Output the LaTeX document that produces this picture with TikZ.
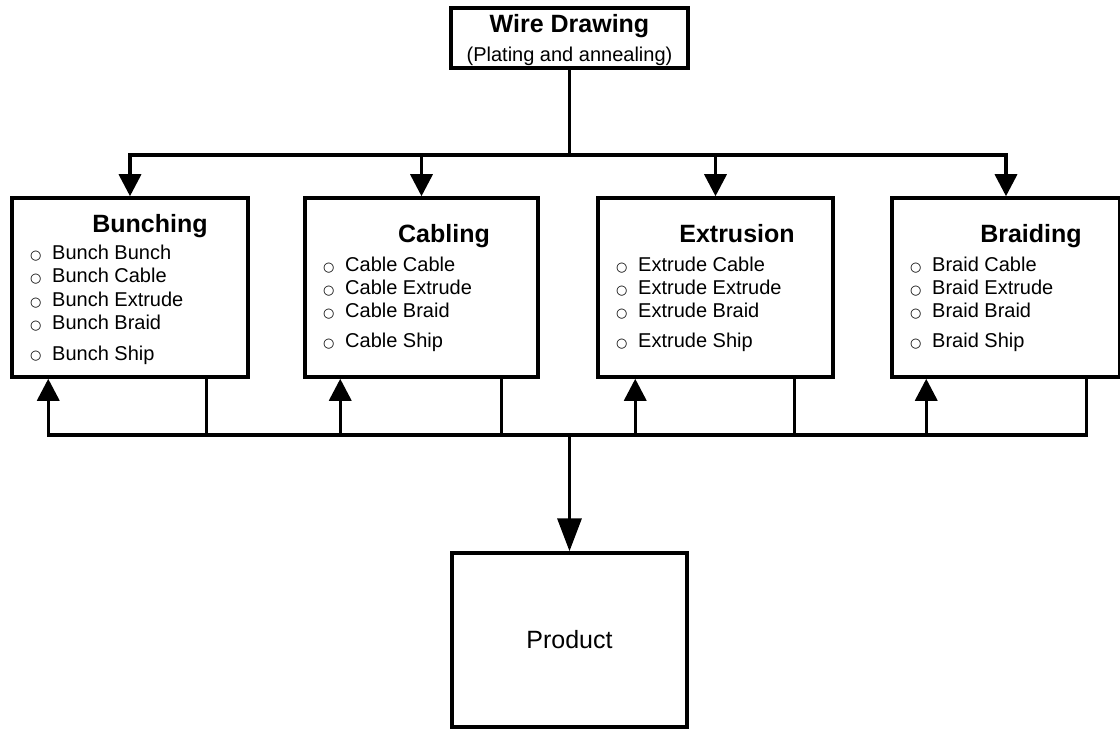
\documentclass[tikz,border=0pt]{standalone}
\usepackage{fontspec}
\setmainfont{Liberation Sans}
\newfontfamily\bulfont{DejaVu Sans}
\usetikzlibrary{arrows.meta}
\newcommand\itembul{\makebox[23pt][l]{\hspace{1pt}\raisebox{0.8pt}{\bulfont\fontsize{13}{15}\selectfont ○}}}
\begin{document}
\begin{tikzpicture}[x=1pt,y=-1pt,
  line/.style={line width=3.5pt},
  box/.style={draw,line width=3.5pt,rectangle,inner sep=0pt},
  procbox/.style={box,minimum height=179pt},
  tip/.style={-{Triangle[length=22pt,width=22pt]}},
  tipstart/.style={{Triangle[length=22pt,width=22pt]}-},
  tipboth/.style={{Triangle[length=22pt,width=22pt]}-{Triangle[length=22pt,width=22pt]}},
  title/.style={font=\fontsize{25}{30}\selectfont\bfseries,anchor=base,inner sep=0pt},
  sub/.style={font=\fontsize{20}{24}\selectfont,anchor=base,inner sep=0pt},
  item/.style={font=\fontsize{20}{24}\selectfont,anchor=base west,inner sep=0pt},
]
\useasboundingbox (0,0) rectangle (1120,730);

% top box
\node[box,minimum width=237pt,minimum height=60pt] (wire) at (569.5,38) {};
\node[title] (wt1) at (569.5,33) {Wire Drawing};
\node[sub] (wt2) at (569.5,62) {(Plating and annealing)};

% process boxes
\node[procbox,minimum width=236pt] (bunch) at (130,287.5) {};
\node[procbox,minimum width=233pt] (cable) at (421.5,287.5) {};
\node[procbox,minimum width=235pt] (extr) at (715.5,287.5) {};
\node[procbox,minimum width=228pt] (braid) at (1006,287.5) {};

% product box
\node[box,minimum width=235pt,minimum height=174pt,font=\fontsize{25}{30}\selectfont] (prod) at (569.5,640) {Product};

% Bunching
\node[title] (bt) at (150,233) {Bunching};
\node[item] (b1) at (29,260) {\itembul Bunch Bunch};
\node[item] (b2) at (29,283) {\itembul Bunch Cable};
\node[item] (b3) at (29,307) {\itembul Bunch Extrude};
\node[item] (b4) at (29,330) {\itembul Bunch Braid};
\node[item] (b5) at (29,360) {\itembul Bunch Ship};

% Cabling
\node[title] (ct) at (444,243) {Cabling};
\node[item] (c1) at (322,272) {\itembul Cable Cable};
\node[item] (c2) at (322,295) {\itembul Cable Extrude};
\node[item] (c3) at (322,318) {\itembul Cable Braid};
\node[item] (c4) at (322,348) {\itembul Cable Ship};

% Extrusion
\node[title] (et) at (737,243) {Extrusion};
\node[item] (e1) at (615,272) {\itembul Extrude Cable};
\node[item] (e2) at (615,295) {\itembul Extrude Extrude};
\node[item] (e3) at (615,318) {\itembul Extrude Braid};
\node[item] (e4) at (615,348) {\itembul Extrude Ship};

% Braiding
\node[title] (rt) at (1031,243) {Braiding};
\node[item] (r1) at (909,272) {\itembul Braid Cable};
\node[item] (r2) at (909,295) {\itembul Braid Extrude};
\node[item] (r3) at (909,318) {\itembul Braid Braid};
\node[item] (r4) at (909,348) {\itembul Braid Ship};

% top distribution
\coordinate (tj) at (569.5,155);
\draw[line] (wire.south) -- (tj);
\draw[line,tipboth] (bunch.north) -- (bunch.north |- tj) -- (braid.north |- tj) -- (braid.north);
\draw[line,tip] (cable.north |- tj) -- (cable.north);
\draw[line,tip] (extr.north |- tj) -- (extr.north);

% bottom collection
\coordinate (bj) at (569.5,435);
\coordinate (bu) at ([xshift=38pt]bunch.south west);
\coordinate (bd) at ([xshift=196pt]bunch.south west);
\coordinate (cu) at ([xshift=37pt]cable.south west);
\coordinate (cd) at ([xshift=198pt]cable.south west);
\coordinate (eu) at ([xshift=39pt]extr.south west);
\coordinate (ed) at ([xshift=198pt]extr.south west);
\coordinate (ru) at ([xshift=36pt]braid.south west);
\coordinate (rd) at ([xshift=196pt]braid.south west);

\draw[line,tipstart] (bu) -- (bu |- bj) -- (rd |- bj) -- (rd);
\draw[line,tip] (cu |- bj) -- (cu);
\draw[line,tip] (eu |- bj) -- (eu);
\draw[line,tip] (ru |- bj) -- (ru);
\draw[line] (bd) -- (bd |- bj);
\draw[line] (cd) -- (cd |- bj);
\draw[line] (ed) -- (ed |- bj);
\draw[line,-{Triangle[length=33pt,width=24pt]}] (bj) -- (prod.north);
\end{tikzpicture}
\end{document}
